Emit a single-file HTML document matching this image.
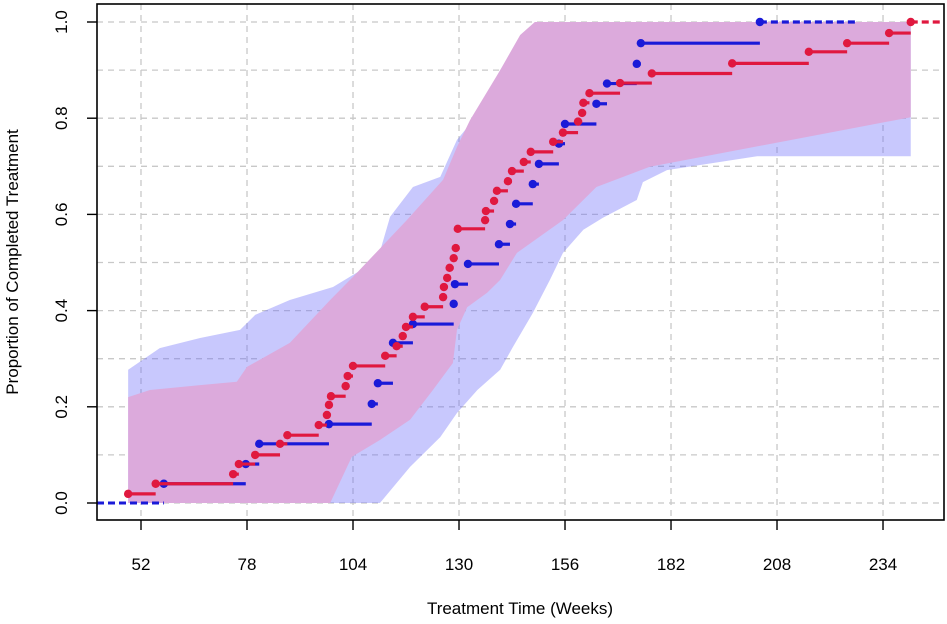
<!DOCTYPE html>
<html><head><meta charset="utf-8"><style>
html,body{margin:0;padding:0;background:#fff;}
svg{display:block;font-family:"Liberation Sans",Arial,sans-serif;}
</style></head><body>
<svg id="chart" width="947" height="624" viewBox="0 0 947 624"></svg>
<script>
const xTicks=[52,78,104,130,156,182,208,234];
const yTicks=[0,0.2,0.4,0.6,0.8,1.0];
const yGrid=[0,0.1,0.2,0.3,0.4,0.5,0.6,0.7,0.8,0.9,1.0];
const redTimes=[48.85,55.6,74.6,76.0,80.0,86.1,87.9,95.6,97.6,98.1,98.6,102.2,102.7,104.0,111.9,114.7,116.2,117.0,118.7,121.6,126.1,126.3,127.1,127.7,128.7,129.2,129.7,136.4,136.6,138.6,139.3,142.0,143.0,145.9,147.6,153.1,155.5,159.2,160.2,160.5,162.0,169.5,177.3,197.0,215.8,225.2,235.5,240.8];
const redProps=[0.019,0.040,0.060,0.081,0.100,0.123,0.141,0.162,0.183,0.204,0.222,0.243,0.264,0.285,0.306,0.326,0.347,0.366,0.387,0.408,0.428,0.449,0.468,0.489,0.509,0.530,0.570,0.588,0.607,0.628,0.649,0.669,0.690,0.709,0.730,0.751,0.770,0.793,0.811,0.832,0.852,0.873,0.893,0.914,0.938,0.956,0.977,1.0];
const redEnd=249.0;
const blueTimes=[57.6,77.7,81.0,98.1,108.6,110.1,113.8,118.7,128.7,129.0,132.2,139.8,142.5,144.0,148.1,149.6,154.5,156.0,163.7,166.3,173.6,174.6,203.8];
const blueProps=[0.040,0.081,0.123,0.164,0.206,0.249,0.333,0.372,0.414,0.455,0.497,0.538,0.580,0.622,0.663,0.705,0.747,0.788,0.830,0.872,0.913,0.956,1.0];
const blueEnd=227.4;
const blueUpperT=[48.85,56.6,66.5,76.3,80.0,88.5,99.1,110.0,113.1,118.7,125.4,129.5,133.5,140.1,145.0,150.0,240.8];
const blueUpperP=[0.277,0.322,0.343,0.360,0.391,0.422,0.449,0.505,0.595,0.657,0.678,0.755,0.796,0.900,0.963,1,1];
const blueLowerT=[48.85,110.6,118.0,125.4,129.5,134.5,140.1,143.2,148.1,152.3,155.5,160.5,165.3,173.6,175.1,181.0,203.1,240.8];
const blueLowerP=[0,0,0.075,0.137,0.187,0.235,0.277,0.324,0.395,0.464,0.520,0.568,0.593,0.630,0.667,0.692,0.721,0.721];
const pinkUpperT=[48.85,54.2,66.5,75.5,78.0,88.5,98.4,104.0,117.2,126.1,129.5,132.7,140.1,145.0,148.6,240.8];
const pinkUpperP=[0.220,0.235,0.245,0.252,0.283,0.333,0.422,0.470,0.588,0.672,0.740,0.796,0.900,0.973,1,1];
const pinkLowerT=[48.85,98.4,103.7,110.6,118.0,123.6,128.5,129.5,132.0,136.9,140.1,144.2,155.5,163.7,176.8,240.8];
const pinkLowerP=[0,0,0.096,0.131,0.173,0.235,0.291,0.360,0.407,0.437,0.464,0.520,0.588,0.657,0.699,0.802];

const X=w=>141+(w-52)*4.077;
const Y=p=>503-p*481;
const NS="http://www.w3.org/2000/svg";
const svg=document.getElementById('chart');
function mk(tag,attrs,parent){const e=document.createElementNS(NS,tag);for(const k in attrs)e.setAttribute(k,attrs[k]);(parent||svg).appendChild(e);return e;}

// grid
const grid=mk('g',{});


xTicks.forEach(t=>{const l=mk('line',{x1:X(t),x2:X(t),y1:4,y2:520,stroke:'#c8c8c8','stroke-width':1.3,'stroke-dasharray':'6,5'},grid);

});
yGrid.forEach(t=>{const l=mk('line',{x1:97,x2:944,y1:Y(t),y2:Y(t),stroke:'#c8c8c8','stroke-width':1.3,'stroke-dasharray':'6,5'},grid);

});

function band(ut,up,lt,lp,fill,name){
 let pts=[];for(let i=0;i<ut.length;i++)pts.push(X(ut[i])+','+Y(up[i]));
 for(let i=lt.length-1;i>=0;i--)pts.push(X(lt[i])+','+Y(lp[i]));
 const p=mk('polygon',{points:pts.join(' '),fill:fill});
 
 
}
band(blueUpperT,blueUpperP,blueLowerT,blueLowerP,'rgba(110,110,250,0.38)','blue-confidence-band');
band(pinkUpperT,pinkUpperP,pinkLowerT,pinkLowerP,'#dcaadc','red-confidence-band');

function series(times,props,end,color,name,dashLast){
 const g=mk('g',{});
 
 
 for(let i=0;i<times.length;i++){
  const x2=i<times.length-1?times[i+1]:end;
  const last=i===times.length-1;
  const l=mk('line',{x1:X(times[i]),x2:X(x2),y1:Y(props[i]),y2:Y(props[i]),stroke:color,'stroke-width':3.2},g);
  if(last&&dashLast)l.setAttribute('stroke-dasharray','7,4');
  
  
  const c=mk('circle',{cx:X(times[i]),cy:Y(props[i]),r:4.2,fill:color},g);
  
  
 }
 return g;
}
// baseline
const bl=mk('line',{x1:97,x2:X(blueTimes[0]),y1:Y(0),y2:Y(0),stroke:'#1a1ad8','stroke-width':3,'stroke-dasharray':'7,4'});


series(blueTimes,blueProps,blueEnd,'#1a1ad8','blue-series',true);
series(redTimes,redProps,redEnd,'#e0183f','red-series',true);

// axes box
const box=mk('rect',{x:97,y:4,width:847,height:516,fill:'none',stroke:'#000','stroke-width':1.6});


xTicks.forEach(t=>{
 const l=mk('line',{x1:X(t),x2:X(t),y1:520,y2:530,stroke:'#000','stroke-width':1.4});
 
 
 const tx=mk('text',{x:X(t),y:570,'text-anchor':'middle','font-size':17,fill:'#000'});tx.textContent=t;
 
 
});
yTicks.forEach(t=>{
 const l=mk('line',{x1:87,x2:97,y1:Y(t),y2:Y(t),stroke:'#000','stroke-width':1.4});
 
 
 const tx=mk('text',{x:67,y:Y(t),'text-anchor':'middle','font-size':17,fill:'#000',transform:`rotate(-90 67 ${Y(t)})`});tx.textContent=t.toFixed(1);
 
 
});
const xt=mk('text',{x:520,y:614,'text-anchor':'middle','font-size':17,fill:'#000'});xt.textContent='Treatment Time (Weeks)';


const yt=mk('text',{x:18,y:262,'text-anchor':'middle','font-size':17,fill:'#000',transform:'rotate(-90 18 262)'});yt.textContent='Proportion of Completed Treatment';


</script>
</body></html>
